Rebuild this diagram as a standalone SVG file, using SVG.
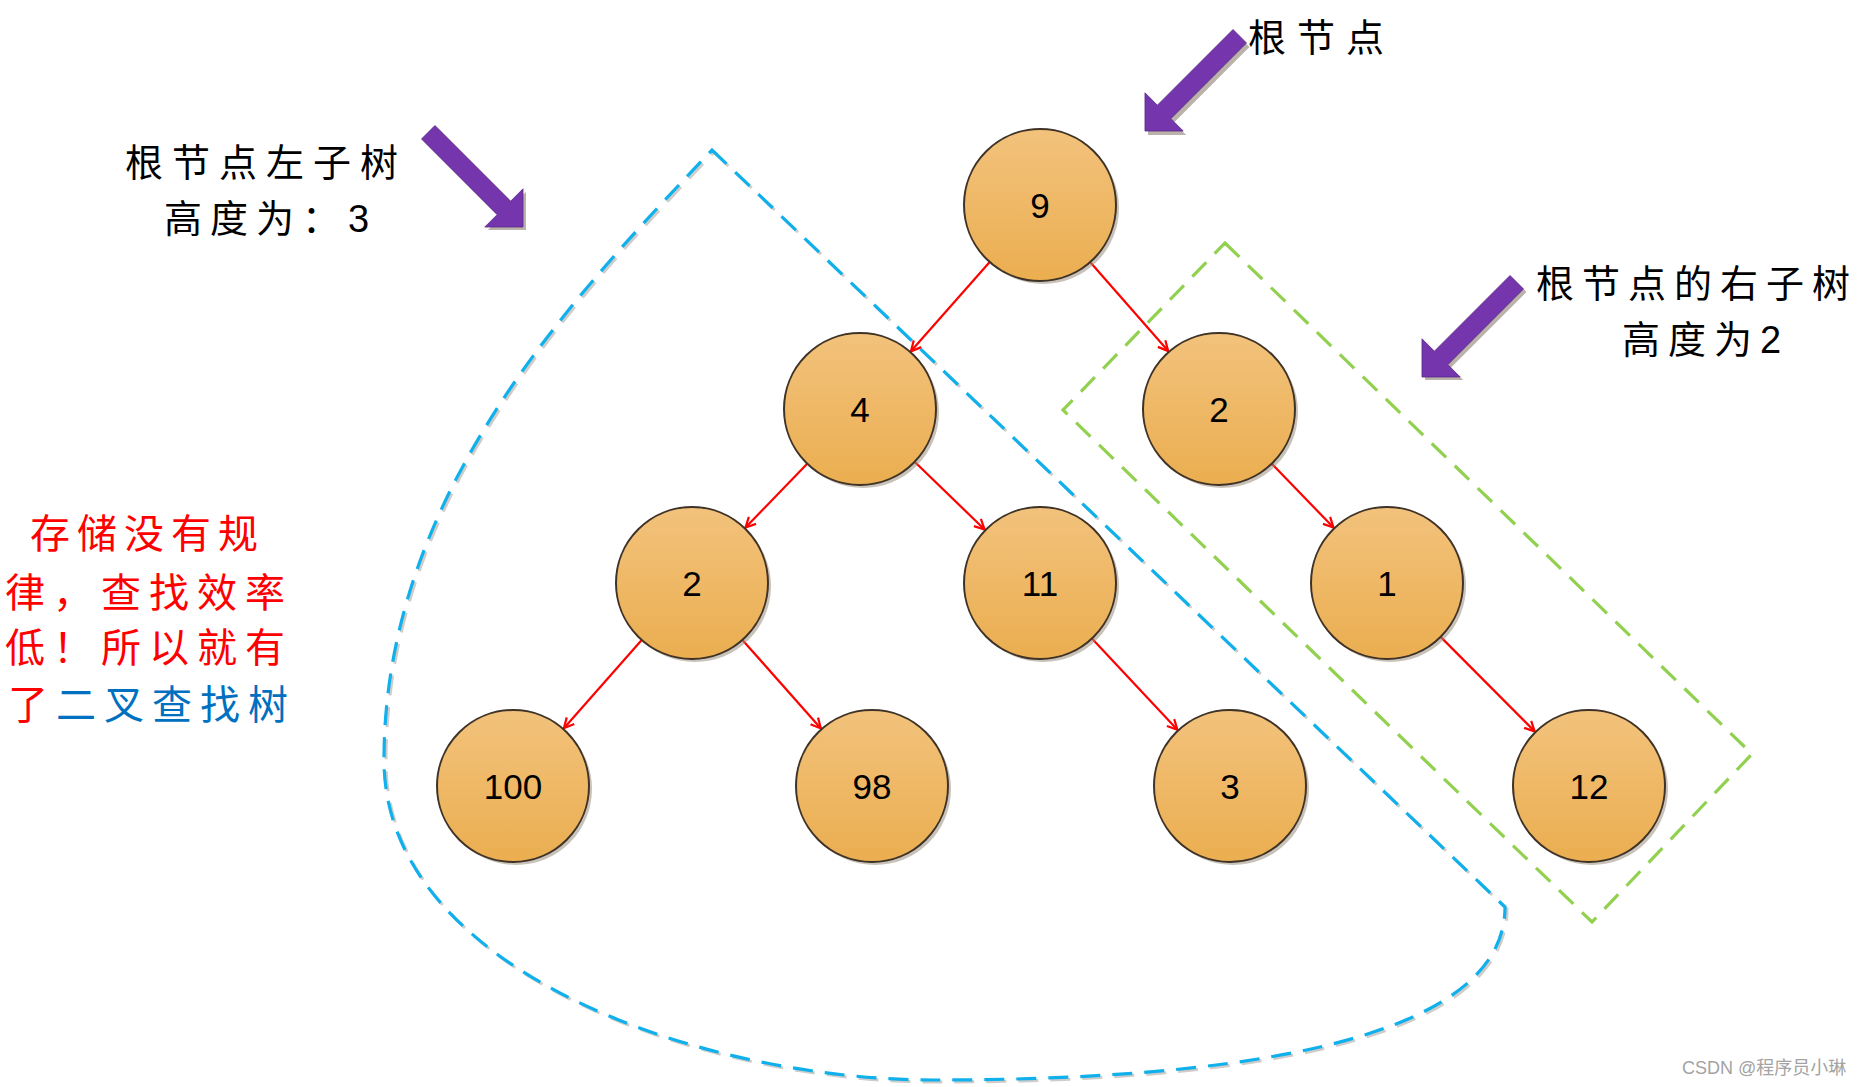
<svg xmlns="http://www.w3.org/2000/svg" width="1868" height="1087" viewBox="0 0 1868 1087">
<style>
.node{fill:url(#ng);stroke:#3f3328;stroke-width:2}
.shadow{fill:#9c8f80;opacity:0.55}
.lbl{font-family:"Liberation Sans",Arial,sans-serif;font-size:35px;fill:#000;text-anchor:middle}
.edge{stroke:#ff0000;stroke-width:2.2;fill:none;marker-end:url(#ah)}
.cjk{font-family:"Noto Sans CJK SC",sans-serif;fill:#000}
.parrow{fill:#7536ad;stroke:#5a2a86;stroke-width:0.8}
.pshadow{fill:#8d7f70;opacity:0.6}
</style>
<defs>
<linearGradient id="ng" x1="0" y1="0" x2="0" y2="1">
<stop offset="0" stop-color="#f2c27c"/>
<stop offset="1" stop-color="#ebae50"/>
</linearGradient>
<marker id="ah" markerUnits="userSpaceOnUse" markerWidth="14" markerHeight="14" viewBox="-12 -7 14 14" refX="0" refY="0" orient="auto">
<path d="M-10,-5 L0,0 L-10,5" fill="none" stroke="#ff0000" stroke-width="2.2"/>
</marker>
<polygon id="blk" points="0,0 -27,-27 -27,-9.5 -134,-9.5 -134,9.5 -27,9.5 -27,27"/>
</defs>
<rect width="1868" height="1087" fill="#ffffff"/>

<g id="subtree-left-outline">
<path d="M714,152 L1507,909 C1507,1052 1202,1082 936,1082 C702,1082 386,972 386,762 C386,492 582,292 714,152 Z" fill="none" stroke="#a09a94" stroke-width="3" stroke-dasharray="20 12" opacity="0.5"/>
<path d="M712,150 L1505,907 C1505,1050 1200,1080 934,1080 C700,1080 384,970 384,760 C384,490 580,290 712,150 Z" fill="none" stroke="#0fb0ec" stroke-width="3.2" stroke-dasharray="20 12"/>
</g>
<g id="subtree-right-outline">
<polygon points="1225,243 1752,754 1592,922 1063,410" fill="none" stroke="#92d050" stroke-width="3.2" stroke-dasharray="20 12"/>
</g>

<g id="connectors">
<line class="edge" x1="989.7" y1="262" x2="910.9" y2="351.3"/>
<line class="edge" x1="1090.1" y1="262.1" x2="1168.2" y2="351.1"/>
<line class="edge" x1="807.2" y1="463.7" x2="745.5" y2="527.6"/>
<line class="edge" x1="914.6" y1="461.8" x2="984.6" y2="529.5"/>
<line class="edge" x1="1271.8" y1="463.7" x2="1333.5" y2="527.6"/>
<line class="edge" x1="641.7" y1="640" x2="563.9" y2="728.2"/>
<line class="edge" x1="742.4" y1="639.9" x2="820.9" y2="728.4"/>
<line class="edge" x1="1091.9" y1="638.5" x2="1177.4" y2="729.8"/>
<line class="edge" x1="1440.6" y1="636.9" x2="1534.7" y2="731.4"/>
</g>

<g id="n9"><circle class="shadow" cx="1043" cy="208" r="76"/><circle class="node" cx="1040" cy="205" r="76"/><text class="lbl" x="1040" y="218">9</text></g>
<g id="n4"><circle class="shadow" cx="863" cy="412" r="76"/><circle class="node" cx="860" cy="409" r="76"/><text class="lbl" x="860" y="422">4</text></g>
<g id="n2r"><circle class="shadow" cx="1222" cy="412" r="76"/><circle class="node" cx="1219" cy="409" r="76"/><text class="lbl" x="1219" y="422">2</text></g>
<g id="n2l"><circle class="shadow" cx="695" cy="586" r="76"/><circle class="node" cx="692" cy="583" r="76"/><text class="lbl" x="692" y="596">2</text></g>
<g id="n11"><circle class="shadow" cx="1043" cy="586" r="76"/><circle class="node" cx="1040" cy="583" r="76"/><text class="lbl" x="1040" y="596">11</text></g>
<g id="n1"><circle class="shadow" cx="1390" cy="586" r="76"/><circle class="node" cx="1387" cy="583" r="76"/><text class="lbl" x="1387" y="596">1</text></g>
<g id="n100"><circle class="shadow" cx="516" cy="789" r="76"/><circle class="node" cx="513" cy="786" r="76"/><text class="lbl" x="513" y="799">100</text></g>
<g id="n98"><circle class="shadow" cx="875" cy="789" r="76"/><circle class="node" cx="872" cy="786" r="76"/><text class="lbl" x="872" y="799">98</text></g>
<g id="n3"><circle class="shadow" cx="1233" cy="789" r="76"/><circle class="node" cx="1230" cy="786" r="76"/><text class="lbl" x="1230" y="799">3</text></g>
<g id="n12"><circle class="shadow" cx="1592" cy="789" r="76"/><circle class="node" cx="1589" cy="786" r="76"/><text class="lbl" x="1589" y="799">12</text></g>

<g id="arrow-root">
<use href="#blk" class="pshadow" transform="translate(1148,135) rotate(135)"/>
<use href="#blk" class="parrow" transform="translate(1145,131) rotate(135)"/>
</g>
<g id="arrow-left">
<use href="#blk" class="pshadow" transform="translate(526,230) rotate(45)"/>
<use href="#blk" class="parrow" transform="translate(523,227) rotate(45)"/>
</g>
<g id="arrow-right">
<use href="#blk" class="pshadow" transform="translate(1425,380) rotate(135)"/>
<use href="#blk" class="parrow" transform="translate(1422,377) rotate(135)"/>
</g>

<g id="label-root">
<text class="cjk" x="1248" y="51" font-size="38" letter-spacing="11">根节点</text>
</g>
<g id="label-left">
<text class="cjk" x="125" y="176" font-size="38" letter-spacing="9">根节点左子树</text>
<text class="cjk" x="164" y="232" font-size="38" letter-spacing="8">高度为：<tspan font-family="Liberation Sans, Arial, sans-serif">3</tspan></text>
</g>
<g id="label-right">
<text class="cjk" x="1536" y="297" font-size="38" letter-spacing="8">根节点的右子树</text>
<text class="cjk" x="1622" y="353" font-size="38" letter-spacing="8">高度为<tspan font-family="Liberation Sans, Arial, sans-serif">2</tspan></text>
</g>
<g id="note">
<text class="cjk" x="30" y="548" font-size="40" letter-spacing="7" fill="#ff0000" style="fill:#ff0000">存储没有规</text>
<text class="cjk" x="5" y="607" font-size="40" letter-spacing="8" style="fill:#ff0000">律，查找效率</text>
<text class="cjk" x="5" y="662" font-size="40" letter-spacing="8" style="fill:#ff0000">低！所以就有</text>
<text class="cjk" x="8" y="719" font-size="40" letter-spacing="8" style="fill:#ff0000">了<tspan style="fill:#0070c0">二叉查找树</tspan></text>
</g>
<text x="1682" y="1074" font-family="Liberation Sans, Arial, 'Noto Sans CJK SC', sans-serif" font-size="18" fill="#a3a3a3">CSDN @程序员小琳</text>
</svg>
